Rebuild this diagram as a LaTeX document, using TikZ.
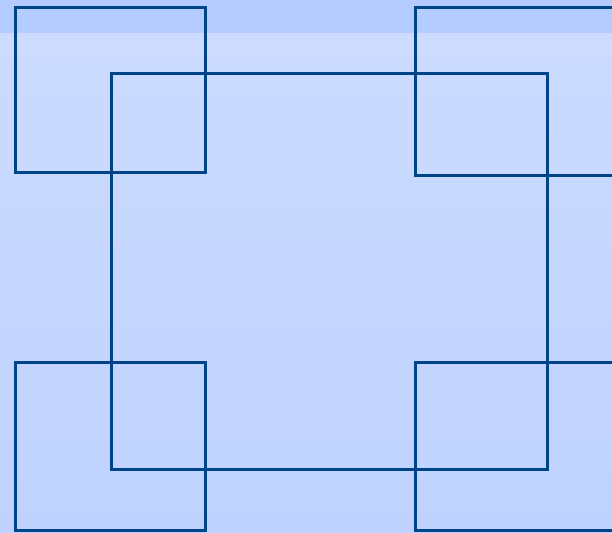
\documentclass[tikz,border=0pt]{standalone}
\usepackage{tikz}
\usetikzlibrary{positioning}
\definecolor{frameblue}{RGB}{0,68,136}
\definecolor{bgtop}{RGB}{205,220,255}
\definecolor{bgbottom}{RGB}{191,210,255}
\definecolor{bandblue}{RGB}{181,204,255}

\begin{document}
\begin{tikzpicture}[x=1pt, y=-1pt, frame/.style = {draw=frameblue, line width=3pt}]

% background
\clip (0,0) rectangle (612,532);
\shade[top color=bgtop, bottom color=bgbottom] (0,0) rectangle (612,532);
\fill[bandblue] (0,0) rectangle (612,33);

% big frame
\draw[frame] (111,73.5) rectangle (547,469);

% corner squares
\draw[frame] (15.5,7.5) rectangle (205.5,172.5);
\draw[frame] (415.5,7.5) rectangle (640,175);
\draw[frame] (15.5,362.5) rectangle (205.5,530.5);
\draw[frame] (415.5,362.5) rectangle (640,530.5);

\end{tikzpicture}
\end{document}
